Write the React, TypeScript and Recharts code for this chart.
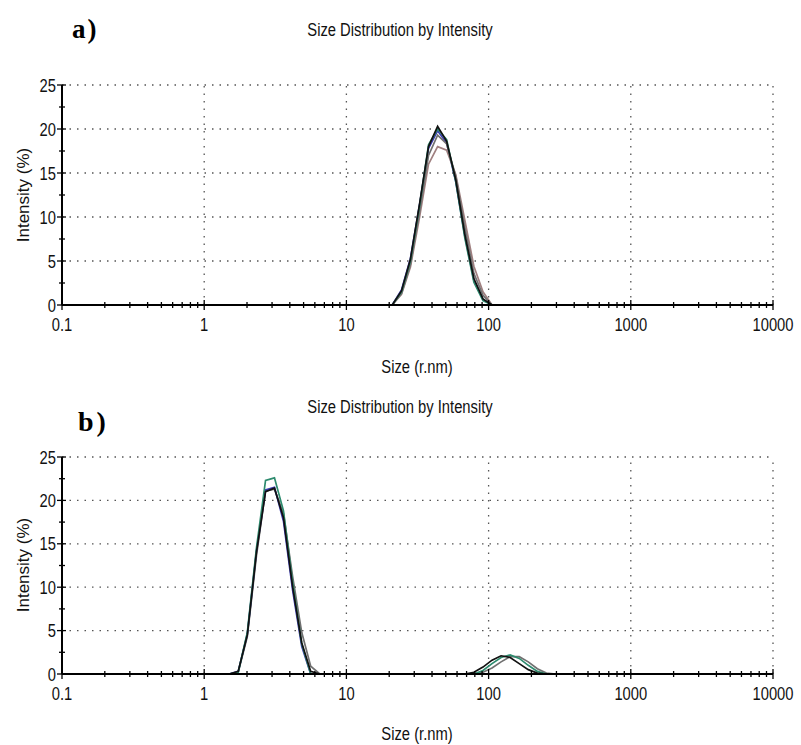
import React from "react";
import { LineChart, Line, XAxis, YAxis, ReferenceLine } from "recharts";

// size classes (nm) and intensities (%)
const sizesA = [21.0, 24.4, 28.2, 32.7, 37.8, 43.8, 50.7, 58.8, 68.1, 78.8, 91.3, 105.7];
const blueA = [0, 1.7, 5.3, 11.4, 17.8, 19.8, 18.4, 14.0, 7.8, 2.8, 0.6, 0];
const roseA = [0, 1.2, 4.3, 10.0, 16.0, 18.0, 17.6, 14.8, 9.6, 4.4, 1.5, 0];
const grayA = [0, 1.3, 4.6, 10.6, 17.0, 19.3, 18.3, 14.6, 8.8, 3.6, 1.1, 0];
const greenA = [0, 1.5, 5.0, 11.3, 18.2, 20.0, 18.8, 14.0, 7.6, 2.6, 0.5, 0];
const blackA = [0, 1.6, 5.2, 11.5, 18.0, 20.3, 18.6, 14.2, 8.0, 3.0, 0.7, 0];

const sizesB = [
  1.5, 1.735, 2.01, 2.33, 2.7, 3.12, 3.61, 4.19, 4.85, 5.61, 6.5,
  68.1, 78.8, 91.3, 105.7, 122.4, 141.8, 164.2, 190.1, 220.2, 255.0, 295.3,
];
const grayB = [0, 0.2, 4.3, 13.6, 21.1, 21.3, 18.5, 11.2, 4.8, 0.9, 0, 0, 0, 0.2, 0.7, 1.4, 2.0, 2.0, 1.4, 0.6, 0.1, 0];
const blueB = [0, 0.3, 4.6, 14.2, 21.2, 21.5, 17.6, 9.6, 3.2, 0, 0, 0, 0, 0, 0, 0, 0, 0, 0, 0, 0, 0];
const greenB = [0, 0.2, 4.8, 14.5, 22.3, 22.6, 18.8, 10.5, 3.5, 0, 0, 0, 0, 0.4, 1.2, 1.9, 2.2, 1.8, 1.0, 0.3, 0, 0];
const blackB = [0, 0.3, 4.5, 14.0, 21.0, 21.4, 18.0, 10.0, 3.6, 0.3, 0, 0, 0.2, 0.8, 1.6, 2.1, 1.9, 1.2, 0.5, 0.1, 0, 0];

const decades = [0.1, 1, 10, 100, 1000, 10000];
const xTicks = decades.slice(0, 5).flatMap((d) => [1, 2, 3, 4, 5, 6, 7, 8, 9].map((m) => +(d * m).toPrecision(3))).concat([10000]);
const yMajor = [0, 5, 10, 15, 20, 25];
const yTicks = [0, 2.5, 5, 7.5, 10, 12.5, 15, 17.5, 20, 22.5, 25];

// Arial Narrow look: Liberation Sans squeezed to 82%
const sans = "'Liberation Sans', Arial, sans-serif";
const SQUEEZE = 0.82;

const toPoints = (sizes: number[], vals: number[]) => sizes.map((s, i) => ({ size: s, value: vals[i] }));

function XTick(props: any) {
  const { x, y, payload } = props;
  const v = payload.value;
  const lg = Math.log10(v);
  const major = Math.abs(lg - Math.round(lg)) < 1e-6;
  return (
    <g>
      <line x1={x} x2={x} y1={y - (major ? 5 : 3)} y2={y + (major ? 5 : 3)} stroke="#000" strokeWidth={1.3} />
      {major && (
        <text transform={`translate(${x},${y + 26}) scale(${SQUEEZE},1)`} textAnchor="middle" fontSize={18} fontFamily={sans} fill="#111">
          {v}
        </text>
      )}
    </g>
  );
}

function YTick(props: any) {
  const { x, y, payload } = props;
  const major = payload.value % 5 === 0;
  return (
    <g>
      <line x1={x - (major ? 5 : 3)} x2={x + (major ? 4 : 3)} y1={y} y2={y} stroke="#000" strokeWidth={1.3} />
      {major && (
        <text transform={`translate(${x - 6},${y + 6.5}) scale(${SQUEEZE},1)`} textAnchor="end" fontSize={18} fontFamily={sans} fill="#111">
          {payload.value}
        </text>
      )}
    </g>
  );
}

function Panel({ series, height, top, bottom }: { series: { color: string; pts: { size: number; value: number }[] }[]; height: number; top: number; bottom: number }) {
  return (
    <LineChart width={801} height={height} margin={{ top, right: 28, bottom, left: 0 }}>
      <XAxis
        dataKey="size"
        type="number"
        scale="log"
        domain={[0.1, 10000]}
        ticks={xTicks}
        interval={0}
        allowDataOverflow
        tick={<XTick />}
        tickLine={false}
        tickSize={0}
        tickMargin={0}
        height={30}
        axisLine={{ stroke: "#000", strokeWidth: 2 }}
      />
      <YAxis
        type="number"
        domain={[0, 25]}
        ticks={yTicks}
        interval={0}
        tick={<YTick />}
        tickLine={false}
        tickSize={0}
        tickMargin={0}
        width={62}
        axisLine={{ stroke: "#000", strokeWidth: 2 }}
      />
      {decades.slice(1).map((d) => (
        <ReferenceLine key={"x" + d} x={d} stroke="#555" strokeWidth={1.3} strokeDasharray="1.5 6" />
      ))}
      {yMajor.slice(1).map((v) => (
        <ReferenceLine key={"y" + v} y={v} stroke="#555" strokeWidth={1.3} strokeDasharray="1.5 6" />
      ))}
      {series.map((s, i) => (
        <Line
          key={i}
          data={s.pts}
          dataKey="value"
          type="linear"
          stroke={s.color}
          strokeWidth={1.7}
          dot={false}
          isAnimationActive={false}
        />
      ))}
    </LineChart>
  );
}

const txt: React.CSSProperties = {
  position: "absolute",
  fontFamily: sans,
  fontSize: 18,
  lineHeight: 1,
  color: "#111",
  whiteSpace: "nowrap",
};
const squeezeAt = `translate(-50%, -50%) scale(${SQUEEZE}, 1)`;
const yLabel: React.CSSProperties = { ...txt, fontSize: 17, transform: "translate(-50%, -50%) rotate(-90deg)" };
const tag: React.CSSProperties = { position: "absolute", fontFamily: "'Liberation Serif', serif", fontWeight: "bold", lineHeight: 1 };

export default function App() {
  const seriesA = [
    { color: "#3a3ab0", pts: toPoints(sizesA, blueA) },
    { color: "#a08080", pts: toPoints(sizesA, roseA) },
    { color: "#707070", pts: toPoints(sizesA, grayA) },
    { color: "#2e8b6e", pts: toPoints(sizesA, greenA) },
    { color: "#111111", pts: toPoints(sizesA, blackA) },
  ];
  const seriesB = [
    { color: "#707070", pts: toPoints(sizesB, grayB) },
    { color: "#3a3ab0", pts: toPoints(sizesB, blueB) },
    { color: "#2e8b6e", pts: toPoints(sizesB, greenB) },
    { color: "#111111", pts: toPoints(sizesB, blackB) },
  ];
  return (
    <div style={{ position: "absolute", left: 0, top: 0, width: 801, height: 745, background: "#fff", overflow: "hidden" }}>
      <div style={{ position: "absolute", left: 0, top: 0 }}>
        <Panel series={seriesA} height={372} top={85} bottom={37} />
      </div>
      <div style={{ position: "absolute", left: 0, top: 372 }}>
        <Panel series={seriesB} height={373} top={85} bottom={41} />
      </div>

      <div style={{ ...tag, left: 72, top: 16, fontSize: 27, letterSpacing: 2 }}>a)</div>
      <div style={{ ...tag, left: 78, top: 408, fontSize: 28, letterSpacing: 3 }}>b)</div>

      <div style={{ ...txt, left: 400, top: 30, transform: squeezeAt }}>Size Distribution by Intensity</div>
      <div style={{ ...txt, left: 400, top: 407, transform: squeezeAt }}>Size Distribution by Intensity</div>

      <div style={{ ...txt, left: 417, top: 367, transform: squeezeAt }}>Size (r.nm)</div>
      <div style={{ ...txt, left: 417, top: 734, transform: squeezeAt }}>Size (r.nm)</div>

      <div style={{ ...yLabel, left: 23, top: 195 }}>Intensity (%)</div>
      <div style={{ ...yLabel, left: 23, top: 565 }}>Intensity (%)</div>
    </div>
  );
}
